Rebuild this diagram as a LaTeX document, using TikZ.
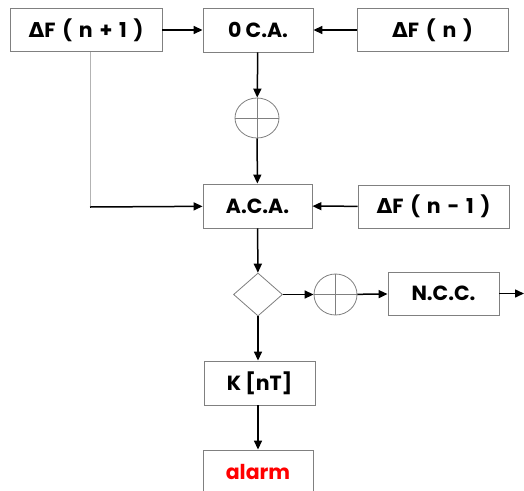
\documentclass[tikz,border=0pt]{standalone}
\usepackage{fontspec}
\setmainfont{Poppins}
\newfontfamily\greekfont{DejaVu Sans}
\usepackage{tikz}
\usetikzlibrary{shapes.geometric, arrows.meta, positioning}
\definecolor{boxgray}{RGB}{128,128,128}
\definecolor{alarmred}{RGB}{255,0,0}
\newcommand{\dF}{{\greekfont\bfseries Δ}F}
\newcommand{\wide}{\hspace{0.33em}}

\tikzset{
  block/.style={rectangle, draw=boxgray, line width=0.9pt, fill=white, inner sep=0pt, font=\fontsize{20.5}{24}\selectfont\bfseries},
  sumnode/.style={ellipse, draw=boxgray, line width=0.8pt, inner sep=0pt},
  flow/.style={-{Triangle[length=9pt,width=8pt]}, line width=1.5pt, black},
}

\begin{document}
\begin{tikzpicture}[x=1pt, y=-1pt]
\clip (0,0) rectangle (524,490);
\fill[white] (0,0) rectangle (524,490);
\node[block, minimum width=152pt, minimum height=43pt] (dfn1) at (86,30) {\dF\wide(\wide n\wide+\wide1\wide)};
\node[block, minimum width=110pt, minimum height=44pt] (oca) at (258,30) {0 C.A.};
\node[block, minimum width=151pt, minimum height=43pt] (dfn) at (432.5,30) {\dF\wide(\wide n\wide)};
\node[sumnode, minimum width=44pt, minimum height=40pt] (sum1) at (257,118) {};
\node[block, minimum width=109pt, minimum height=44pt] (aca) at (257.5,206) {A.C.A.};
\node[block, minimum width=151pt, minimum height=43pt] (dfnm) at (433.5,206.5) {\dF\wide(\wide n\wide-\wide1\wide)};
\node[diamond, draw=boxgray, line width=0.8pt, inner sep=0pt, aspect=1.14, minimum width=49pt, minimum height=43pt] (test) at (258,294.5) {};
\node[sumnode, minimum width=43pt, minimum height=41pt] (sum2) at (335.5,294.5) {};
\node[block, minimum width=111pt, minimum height=43pt] (ncc) at (443.5,293.5) {N.C.C.};
\node[block, minimum width=111pt, minimum height=44pt] (knt) at (259.5,383) {K [nT]};
\node[block, minimum width=110pt, minimum height=44pt, text=alarmred] (alarm) at (258,472) {alarm};
\coordinate (out) at (524,293.5);
\coordinate (bend) at (90,207);
% cross marks in the summing circles
\draw[boxgray, line width=0.7pt] (sum1.north)--(sum1.south) (sum1.west)--(sum1.east);
\draw[boxgray, line width=0.7pt] (sum2.north)--(sum2.south) (sum2.west)--(sum2.east);
% connectors
\draw[flow] (dfn1)--(oca);
\draw[flow] (dfn)--(oca);
\draw[flow] (oca)--(sum1);
\draw[flow] (sum1)--(aca);
\draw[boxgray!60, line width=1pt] (dfn1.south -| bend)--(bend);
\draw[flow] (bend)--(aca);
\draw[flow] (dfnm)--(aca);
\draw[flow] (aca)--(test);
\draw[flow] (test)--(sum2);
\draw[flow] (sum2)--(ncc);
\draw[flow] (ncc)--(out);
\draw[flow] (test)--(test|-knt.north);
\draw[flow] (knt.south-|test)--(alarm);
\end{tikzpicture}
\end{document}
